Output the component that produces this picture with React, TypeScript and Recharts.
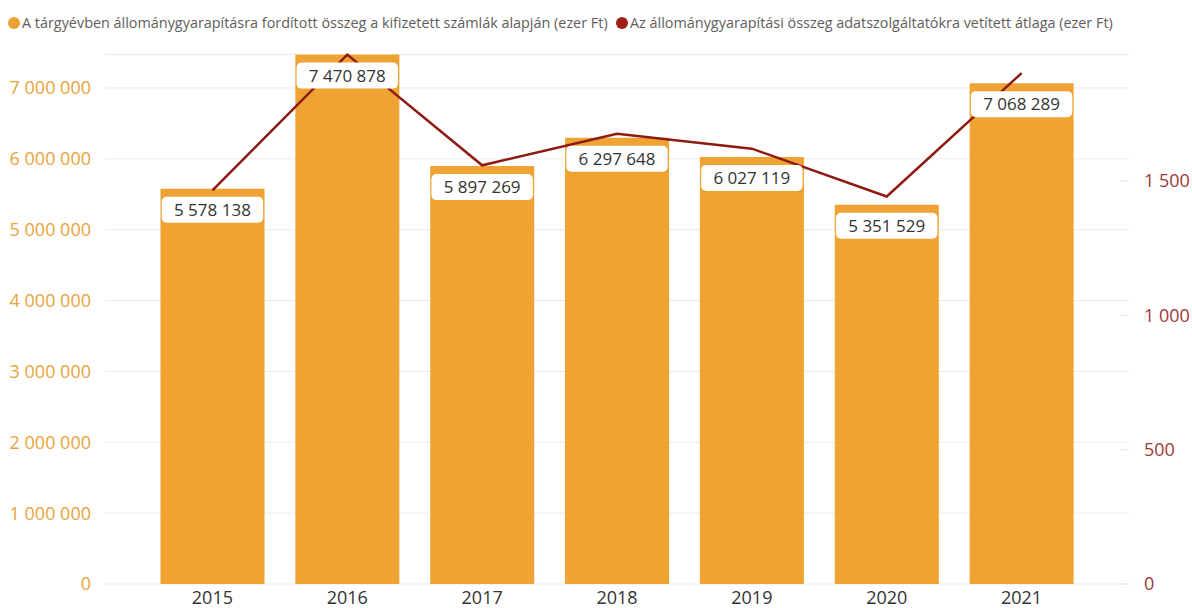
import {
  ComposedChart,
  Bar,
  Line,
  XAxis,
  YAxis,
  CartesianGrid,
  LabelList,
} from "recharts";

const years = ["2015", "2016", "2017", "2018", "2019", "2020", "2021"];
const totalSpend = [5578138, 7470878, 5897269, 6297648, 6027119, 5351529, 7068289];
const avgPerProvider = [1465, 1970, 1558, 1675, 1620, 1442, 1901];
const leftTicks = [0, 1000000, 2000000, 3000000, 4000000, 5000000, 6000000, 7000000];
const rightTicks = [0, 500, 1000, 1500];

const barName =
  "A tárgyévben állománygyarapításra fordított összeg a kifizetett számlák alapján (ezer Ft)";
const lineName =
  "Az állománygyarapítási összeg adatszolgáltatókra vetített átlaga (ezer Ft)";

const data = years.map((year, i) => ({
  year,
  total: totalSpend[i],
  avg: avgPerProvider[i],
}));

const FONT = "'Open Sans', 'Noto Sans', sans-serif";
const BAR_COLOR = "#EEA333";
const LINE_COLOR = "#8E1A12";

const fmt = (v: number) => String(v).replace(/\B(?=(\d{3})+(?!\d))/g, " ");

function RightTick(props: any) {
  const { x, y, payload } = props;
  return (
    <g>
      <line x1={x - 23} x2={x - 15} y1={y} y2={y} stroke="#E3E3E3" strokeWidth={1} />
      <text
        x={x}
        y={y}
        dy="0.35em"
        textAnchor="start"
        fill="#9C3A36"
        fontSize={18}
        fontFamily={FONT}
      >
        {fmt(payload.value)}
      </text>
    </g>
  );
}

// white badge placed just under the top of each bar
function ValueBadge(props: any) {
  const { x, y, value } = props;
  const text = fmt(value);
  const w = text.length * 8.6 + 24;
  return (
    <g>
      <rect x={x - w / 2} y={y + 8} width={w} height={26} rx={5} fill="#ffffff" />
      <text
        x={x}
        y={y + 21}
        dy="0.35em"
        textAnchor="middle"
        fill="#333333"
        fontSize={17}
        fontFamily={FONT}
      >
        {text}
      </text>
    </g>
  );
}

function LegendRow() {
  const item = (color: string, label: string, left: number) => (
    <div
      style={{
        position: "absolute",
        left,
        top: 13,
        display: "flex",
        alignItems: "center",
        whiteSpace: "nowrap",
      }}
    >
      <span
        style={{
          width: 12,
          height: 12,
          borderRadius: "50%",
          background: color,
          display: "inline-block",
          marginRight: 2,
        }}
      />
      <span style={{ fontSize: 14.4, color: "#605E5C", fontFamily: FONT }}>{label}</span>
    </div>
  );
  return (
    <>
      {item("#EBA232", barName, 8)}
      {item("#A01F14", lineName, 616)}
    </>
  );
}

export default function App() {
  return (
    <div
      style={{
        position: "absolute",
        left: 0,
        top: 0,
        width: 1192,
        height: 608,
        background: "#ffffff",
        overflow: "hidden",
      }}
    >
      <LegendRow />
      <ComposedChart
        width={1192}
        height={608}
        data={data}
        margin={{ top: 54.6, right: 0, bottom: 0, left: 0 }}
        barCategoryGap="11.5%"
      >
        <CartesianGrid vertical={false} stroke="#EBEBEB" yAxisId="left" />
        <XAxis
          dataKey="year"
          height={24}
          axisLine={false}
          tickLine={false}
          tickSize={0}
          tickMargin={7}
          padding={{ left: 40, right: 40 }}
          tick={{ fill: "#333333", fontSize: 18, fontFamily: FONT }}
        />
        <YAxis
          yAxisId="left"
          width={105}
          domain={[0, 7470878]}
          ticks={leftTicks}
          axisLine={false}
          tickLine={false}
          tickSize={0}
          tickMargin={14}
          tickFormatter={fmt}
          tick={{ fill: "#E8A33A", fontSize: 18, fontFamily: FONT }}
        />
        <YAxis
          yAxisId="right"
          orientation="right"
          width={63}
          domain={[0, 1970]}
          ticks={rightTicks}
          axisLine={false}
          tickLine={false}
          tickSize={0}
          tickMargin={15}
          tick={<RightTick />}
        />
        <Bar
          yAxisId="left"
          dataKey="total"
          name={barName}
          fill={BAR_COLOR}
          isAnimationActive={false}
        />
        <Line
          yAxisId="right"
          dataKey="avg"
          name={lineName}
          type="linear"
          stroke={LINE_COLOR}
          strokeWidth={2.5}
          dot={false}
          activeDot={false}
          isAnimationActive={false}
        />
        {/* invisible series on the bar scale, only carries the value badges above the line */}
        <Line
          yAxisId="left"
          dataKey="total"
          stroke="none"
          dot={false}
          activeDot={false}
          legendType="none"
          isAnimationActive={false}
        >
          <LabelList dataKey="total" content={<ValueBadge />} />
        </Line>
      </ComposedChart>
    </div>
  );
}
